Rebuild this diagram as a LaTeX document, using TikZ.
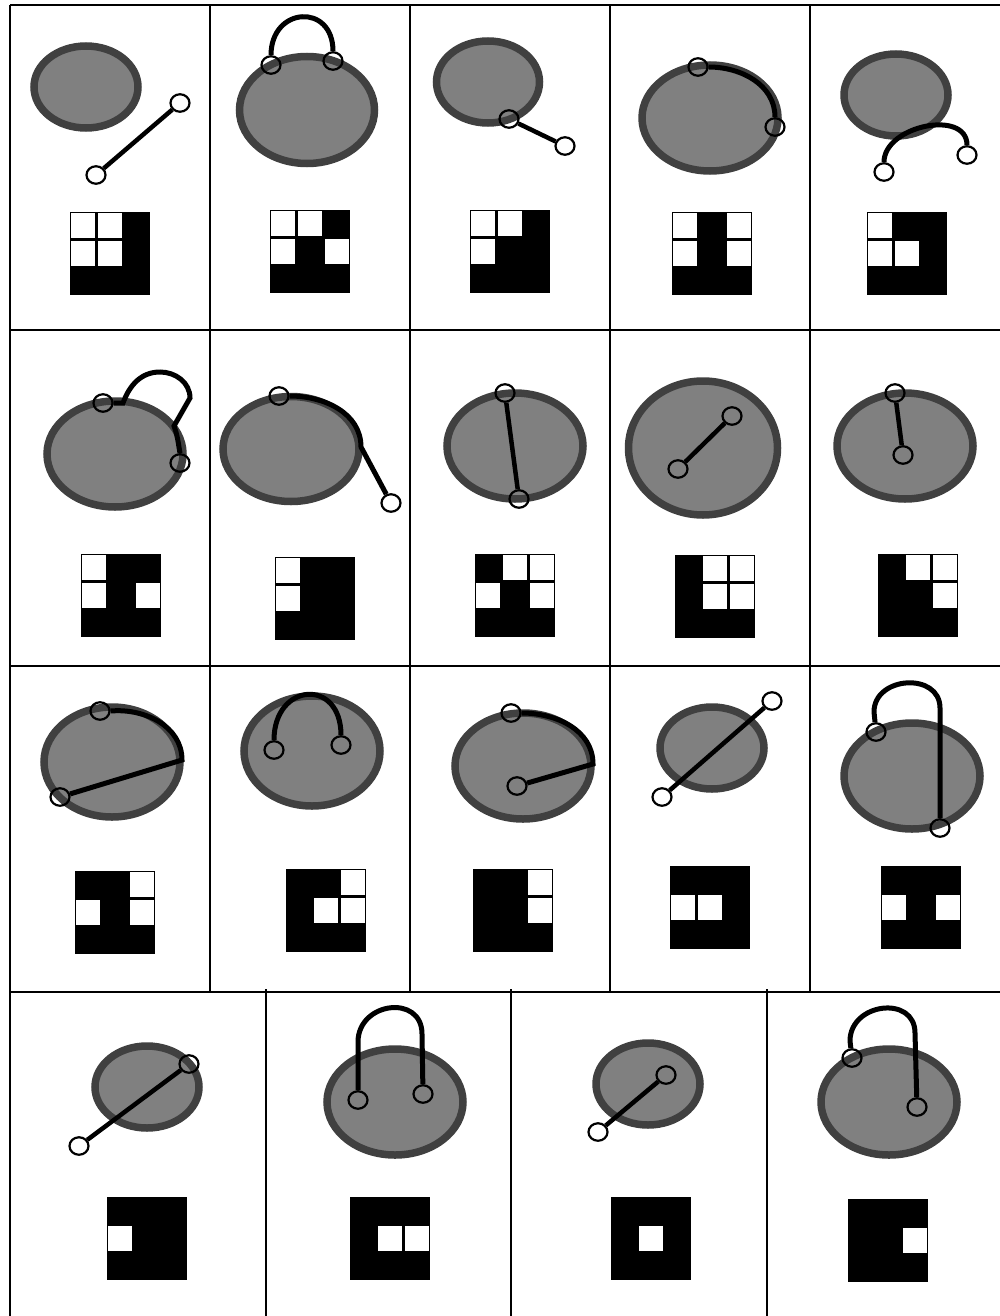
\documentclass[tikz,border=0pt]{standalone}
\usepackage{tikz}
\usetikzlibrary{shapes.geometric}
\newcommand{\tileblock}[3]{%
  \fill (#1,-#2) rectangle ++(80,-83);
  \foreach \tc/\tr in {#3}
    \fill[white] ({#1+\tc*80/3+1.3},{-#2-\tr*83/3-1.3}) rectangle ++(24.07,-25.07);
}
\begin{document}
\begin{tikzpicture}[x=1pt,y=1pt,
  gridline/.style={line width=2.2pt},
  blob/.style={fill=gray,draw=black!75,line width=7.5pt},
  ring/.style={ellipse,draw,line width=2.2pt,inner sep=0pt,minimum width=19pt,minimum height=17.5pt},
  stick/.style={line width=4.5pt},
  bow/.style={line width=5pt}]
\useasboundingbox (0,0) rectangle (1000,-1316);
\draw[gridline] (10,-5) -- (1000,-5) (10,-330) -- (1000,-330) (10,-666) -- (1000,-666) (10,-992) -- (1000,-992);
\draw[gridline] (10,-5) -- (10,-1316);
\foreach \x in {210,410,610,810} \draw[gridline] (\x,-5) -- (\x,-992);
\foreach \x in {266,511,767} \draw[gridline] (\x,-989) -- (\x,-1316);

\draw[blob] (86,-87) ellipse [x radius=52, y radius=41];
\node[ring] (r1a) at (96,-175) {};
\node[ring] (r1b) at (180,-103) {};
\draw[stick] (r1a) -- (r1b);
\tileblock{70}{212}{0/0,1/0,0/1,1/1}

\draw[blob] (307,-110) ellipse [x radius=67.5, y radius=53.5];
\node[ring] (r2a) at (271,-65) {};
\node[ring] (r2b) at (333,-61) {};
\draw[bow] (r2a.north) to[out=90,in=90,looseness=2] (r2b.north);
\tileblock{270}{210}{0/0,1/0,0/1,2/1}

\draw[blob] (488,-82) ellipse [x radius=51.5, y radius=41];
\node[ring] (r3a) at (509,-119) {};
\node[ring] (r3b) at (565,-146) {};
\draw[stick] (r3a) -- (r3b);
\tileblock{470}{210}{0/0,1/0,0/1}

\draw[blob] (710,-118) ellipse [x radius=68, y radius=53];
\node[ring] (r4a) at (698,-67) {};
\node[ring] (r4b) at (775,-127) {};
\draw[bow] (r4a.east) to[out=0,in=90] (r4b.north);
\tileblock{672}{212}{0/0,2/0,0/1,2/1}

\draw[blob] (896,-95) ellipse [x radius=52, y radius=41];
\node[ring] (r5a) at (884,-172) {};
\node[ring] (r5b) at (967,-155) {};
\draw[bow] (r5a.north) to[out=90,in=90,looseness=1.1] (r5b.north);
\tileblock{867}{212}{0/0,0/1,1/1}

\draw[blob] (115,-454) ellipse [x radius=68, y radius=53];
\node[ring] (r6a) at (103,-403) {};
\node[ring] (r6b) at (180,-463) {};
\draw[bow] (r6a.east) -- (123,-403) to[out=70,in=180] (160,-372) to[out=0,in=90] (190,-398) -- (174,-426) to[out=-70,in=100] (r6b.north);
\tileblock{81}{554}{0/0,0/1,2/1}

\draw[blob] (291,-449) ellipse [x radius=68, y radius=52.5];
\node[ring] (r7a) at (279,-396) {};
\node[ring] (r7b) at (391,-503) {};
\draw[bow] (r7a.east) to[out=0,in=90] (361,-447) -- (r7b);
\tileblock{275}{557}{0/0,0/1}

\draw[blob] (515,-446) ellipse [x radius=68, y radius=53];
\node[ring] (r8a) at (505,-393) {};
\node[ring] (r8b) at (519,-499) {};
\draw[stick] (r8a) -- (r8b);
\tileblock{475}{554}{1/0,2/0,0/1,2/1}

\draw[blob] (703,-448) ellipse [x radius=74.5, y radius=67];
\node[ring] (r9a) at (732,-416) {};
\node[ring] (r9b) at (678,-469) {};
\draw[stick] (r9a) -- (r9b);
\tileblock{675}{555}{1/0,2/0,1/1,2/1}

\draw[blob] (905,-446) ellipse [x radius=68, y radius=53];
\node[ring] (r10a) at (895,-393) {};
\node[ring] (r10b) at (903,-455) {};
\draw[stick] (r10a) -- (r10b);
\tileblock{878}{554}{1/0,2/0,2/1}

\draw[blob] (112,-762) ellipse [x radius=68, y radius=55];
\node[ring] (r11a) at (100,-711) {};
\node[ring] (r11b) at (60,-797) {};
\draw[bow] (r11a.east) to[out=5,in=90] (182,-760) -- (r11b);
\tileblock{75}{871}{2/0,0/1,2/1}

\draw[blob] (312,-751) ellipse [x radius=68, y radius=55];
\node[ring] (r12a) at (274,-750) {};
\node[ring] (r12b) at (341,-745) {};
\draw[bow] (r12a.north) to[out=90,in=90,looseness=2.2] (r12b.north);
\tileblock{286}{869}{2/0,1/1,2/1}

\draw[blob] (523,-766) ellipse [x radius=68, y radius=53];
\node[ring] (r13a) at (511,-713) {};
\node[ring] (r13b) at (517,-786) {};
\draw[bow] (r13a.east) to[out=0,in=90] (593,-764) -- (r13b);
\tileblock{473}{869}{2/0,2/1}

\draw[blob] (712,-748) ellipse [x radius=52, y radius=41];
\node[ring] (r14a) at (772,-701) {};
\node[ring] (r14b) at (662,-797) {};
\draw[stick] (r14a) -- (r14b);
\tileblock{670}{866}{0/1,1/1}

\draw[blob] (912,-776) ellipse [x radius=68, y radius=53];
\node[ring] (r15a) at (876,-732) {};
\node[ring] (r15b) at (940,-828) {};
\draw[bow] (r15b) -- (940,-708) to[out=90,in=90,looseness=1.4] (874,-712) -- (r15a);
\tileblock{881}{866}{0/1,2/1}

\draw[blob] (147,-1087) ellipse [x radius=52, y radius=41];
\node[ring] (r16a) at (189,-1064) {};
\node[ring] (r16b) at (79,-1146) {};
\draw[stick] (r16a) -- (r16b);
\tileblock{107}{1197}{0/1}

\draw[blob] (395,-1102) ellipse [x radius=68, y radius=53];
\node[ring] (r17a) at (358,-1100) {};
\node[ring] (r17b) at (423,-1094) {};
\draw[bow] (r17a) -- (358,-1042) to[out=90,in=90,looseness=1.6] (422,-1034) -- (r17b);
\tileblock{350}{1197}{1/1,2/1}

\draw[blob] (648,-1084) ellipse [x radius=52, y radius=41];
\node[ring] (r18a) at (666,-1075) {};
\node[ring] (r18b) at (598,-1132) {};
\draw[stick] (r18a) -- (r18b);
\tileblock{611}{1197}{1/1}

\draw[blob] (889,-1102) ellipse [x radius=68, y radius=53];
\node[ring] (r19a) at (852,-1058) {};
\node[ring] (r19b) at (917,-1107) {};
\draw[bow] (r19b) -- (915,-1033) to[out=90,in=90,looseness=1.5] (850,-1041) -- (r19a);
\tileblock{848}{1199}{2/1}
\end{tikzpicture}
\end{document}
